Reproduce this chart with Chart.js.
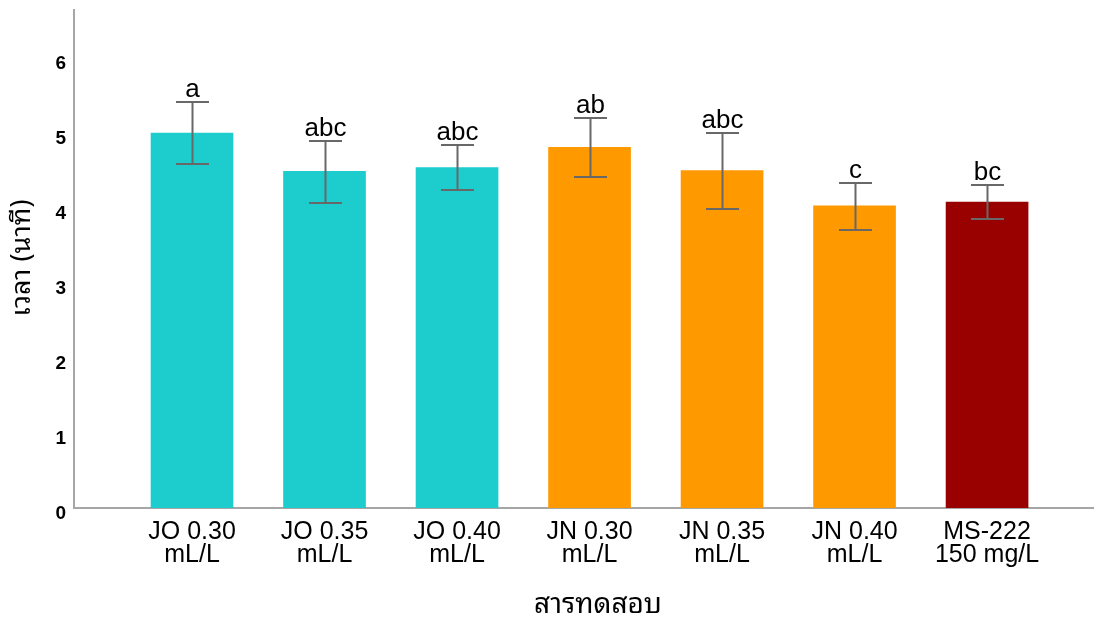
<!DOCTYPE html>
<html>
<head>
<meta charset="utf-8">
<script src="https://cdn.jsdelivr.net/npm/chart.js@4.4.1/dist/chart.umd.min.js"></script>
<style>
  html, body { margin: 0; padding: 0; background: #ffffff; }
  #wrap { width: 1094px; height: 618px; position: relative; }
  #c { display: block; }
</style>
</head>
<body>
<div id="wrap"><canvas id="c" width="1094" height="618"></canvas></div>
<script>
// Treatment groups (two-line labels)
const categories = [
  ['JO 0.30', 'mL/L'],
  ['JO 0.35', 'mL/L'],
  ['JO 0.40', 'mL/L'],
  ['JN 0.30', 'mL/L'],
  ['JN 0.35', 'mL/L'],
  ['JN 0.40', 'mL/L'],
  ['MS-222', '150 mg/L']
];
// Mean time (minutes) and error bar limits
const means    = [5.00, 4.49, 4.54, 4.81, 4.50, 4.03, 4.08];
const errUpper = [5.41, 4.89, 4.84, 5.20, 5.00, 4.33, 4.30];
const errLower = [4.59, 4.07, 4.24, 4.41, 3.99, 3.71, 3.86];
// Significance letters
const letters  = ['a', 'abc', 'abc', 'ab', 'abc', 'c', 'bc'];
// Y tick values
const yTicks   = [0, 1, 2, 3, 4, 5, 6];

const barColors = ['#1dcdcd', '#1dcdcd', '#1dcdcd', '#ff9900', '#ff9900', '#ff9900', '#990000'];

const FONT = "'Liberation Sans', Arial, 'Noto Sans', sans-serif";
const THAI_FONT = "Tahoma, 'Noto Sans Thai Looped', 'Noto Sans Thai', 'Liberation Sans', sans-serif";

// Error bars, letters and axis titles
const overlay = {
  id: 'overlay',
  afterDatasetsDraw(chart) {
    const ctx = chart.ctx;
    const xs = chart.scales.x, ys = chart.scales.y;
    ctx.save();
    ctx.strokeStyle = '#686868';
    ctx.lineWidth = 2;
    for (let i = 0; i < means.length; i++) {
      const cx = Math.round(xs.getPixelForValue(i)) + 0.5;
      const yt = Math.round(ys.getPixelForValue(errUpper[i]));
      const yb = Math.round(ys.getPixelForValue(errLower[i]));
      const half = 16.5;
      ctx.beginPath();
      ctx.moveTo(cx, yt); ctx.lineTo(cx, yb);
      ctx.moveTo(cx - half, yt); ctx.lineTo(cx + half, yt);
      ctx.moveTo(cx - half, yb); ctx.lineTo(cx + half, yb);
      ctx.stroke();
      ctx.fillStyle = '#000';
      ctx.font = '26px ' + FONT;
      ctx.textAlign = 'center';
      ctx.textBaseline = 'alphabetic';
      ctx.fillText(letters[i], cx, yt - 5);
    }
    // axis titles
    ctx.fillStyle = '#000';
    ctx.font = '28px ' + THAI_FONT;
    ctx.textAlign = 'center';
    ctx.textBaseline = 'middle';
    ctx.fillText('สารทดสอบ', 598, 605);
    ctx.translate(22, 258);
    ctx.rotate(-Math.PI / 2);
    ctx.font = '27px ' + THAI_FONT;
    ctx.fillText('เวลา (นาที)', 0, 0);
    ctx.restore();
  }
};

new Chart(document.getElementById('c'), {
  type: 'bar',
  data: {
    datasets: [{
      data: means.map((v, i) => ({ x: i, y: v })),
      backgroundColor: barColors,
      borderWidth: 0,
      barThickness: 82
    }]
  },
  plugins: [overlay],
  options: {
    responsive: false,
    animation: false,
    devicePixelRatio: 1,
    layout: { padding: { top: 10, right: 0, bottom: 0, left: 0 } },
    plugins: { legend: { display: false }, tooltip: { enabled: false } },
    scales: {
      x: {
        type: 'linear',
        offset: false,
        min: -0.8906,
        max: 6.807,
        afterBuildTicks(scale) { scale.ticks = categories.map((_, i) => ({ value: i })); },
        afterFit(scale) {
          scale.height = 110;
          scale.paddingLeft = 0; scale.paddingRight = 0;
        },
        grid: { display: false, drawTicks: false },
        border: { display: true, color: '#a6a6a6', width: 2 },
        ticks: {
          autoSkip: false,
          maxRotation: 0,
          padding: 13,
          color: '#000',
          font: { family: FONT, size: 25, lineHeight: 0.92 },
          callback: (v) => categories[v]
        }
      },
      y: {
        type: 'linear',
        min: 0,
        max: 6.64,
        afterBuildTicks(scale) { scale.ticks = yTicks.map(v => ({ value: v })); },
        afterFit(scale) {
          scale.width = 74;
          scale.paddingTop = 0; scale.paddingBottom = 0;
        },
        grid: { display: false, drawTicks: false },
        border: { display: true, color: '#a6a6a6', width: 2 },
        ticks: {
          padding: 8,
          labelOffset: 6,
          color: '#000',
          font: { family: FONT, size: 19, weight: 'bold' },
          callback: (v) => String(v)
        }
      }
    }
  }
});
</script>
</body>
</html>
